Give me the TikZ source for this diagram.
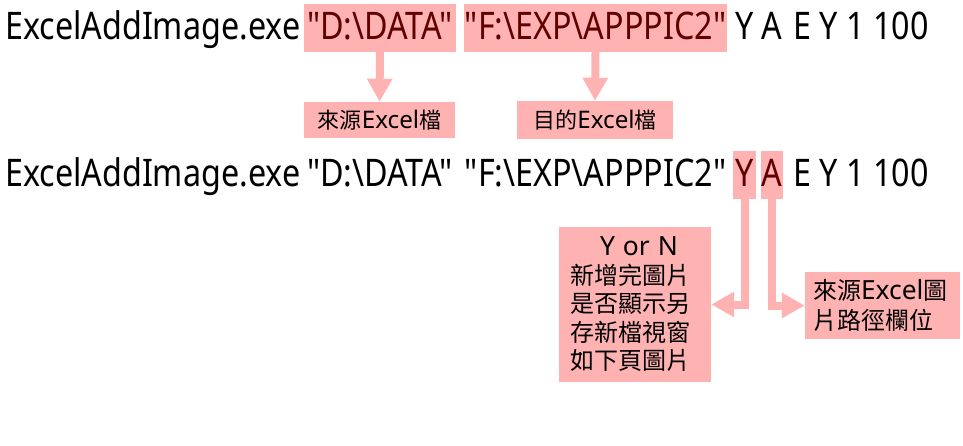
\documentclass[tikz,border=0pt]{standalone}
\usepackage{fontspec}
\setmainfont{Noto Sans}
\newfontfamily\cmdfont[FakeStretch=0.85]{Noto Sans}
\newfontfamily\cjkfont{Noto Sans CJK TC}
\newfontfamily\latinfont[Scale=1.1]{Noto Sans}
\usetikzlibrary{arrows.meta,positioning}

\definecolor{hlpink}{RGB}{255,178,178}
\definecolor{hlred}{RGB}{96,0,0}

\newcommand{\qq}[1]{\symbol{"22}#1\symbol{"22}}
\newcommand{\bs}{\symbol{"5C}}
\newcommand{\xl}{{\latinfont Excel}}

\tikzset{
	cmdpart/.style={inner sep=0pt, text height=27pt, text depth=3pt, minimum height=48pt, font=\cmdfont\fontsize{38}{40}\selectfont},
	hlpart/.style={cmdpart, fill=hlpink, text=hlred},
	notebox/.style={fill=hlpink, inner sep=0pt, font=\cjkfont\fontsize{24}{28.5}\selectfont},
	smallnote/.style={notebox, font=\cjkfont\fontsize{22}{26}\selectfont},
	blockarrow/.style={draw=hlpink, line width=8pt, line join=miter, -{Triangle[width=24pt,length=23pt]}},
}

\begin{document}
\begin{tikzpicture}[x=1pt, y=-1pt]
	\useasboundingbox (0,0) rectangle (963,446);

	\node[cmdpart, anchor=west] (exe1) at (5,28) {ExcelAddImage.exe};
	\node[hlpart, minimum width=152pt] (src1) at (380,28) {\qq{D:\bs DATA}};
	\node[hlpart, minimum width=263pt] (dst1) at (595.5,28) {\qq{F:\bs EXP\bs APPPIC2}};
	\node[cmdpart, minimum width=23pt] (y1) at (744.5,28) {Y};
	\node[cmdpart, minimum width=22pt] (a1) at (772,28) {A};
	\node[cmdpart, anchor=west] (rest1) at (793,28) {E Y 1 100};

	\node[smallnote, minimum width=151pt, minimum height=36pt] (srcnote) at (379.5,120) {來源\xl 檔};
	\node[smallnote, minimum width=156pt, minimum height=38pt] (dstnote) at (595,120) {目的\xl 檔};

	\node[cmdpart, anchor=west] (exe2) at (5,175) {ExcelAddImage.exe};
	\node[cmdpart, minimum width=152pt] (src2) at (380,175) {\qq{D:\bs DATA}};
	\node[cmdpart, minimum width=263pt] (dst2) at (595.5,175) {\qq{F:\bs EXP\bs APPPIC2}};
	\node[hlpart, minimum width=23pt] (y2) at (744.5,175) {Y};
	\node[hlpart, minimum width=22pt] (a2) at (772,175) {A};
	\node[cmdpart, anchor=west] (rest2) at (793,175) {E Y 1 100};

	\node[notebox, minimum width=152pt, minimum height=155pt, text width=130pt, align=left] (yornnote) at (635,304.5)
		{\hspace*{30pt}{\latinfont Y or N}\\新增完圖片\\是否顯示另\\存新檔視窗\\如下頁圖片};
	\node[notebox, minimum width=155pt, minimum height=67pt, text width=139pt, align=left, font=\cjkfont\fontsize{24}{30}\selectfont] (pathnote) at (882.5,305.5)
		{來源\xl 圖\\片路徑欄位};

	\draw[blockarrow] (src1.south) -- (srcnote.north);
	\draw[blockarrow] (dst1.south) -- (dstnote.north);
	\draw[blockarrow] (y2.south) |- (yornnote.east);
	\draw[blockarrow] (a2.south) |- (pathnote.west);
\end{tikzpicture}
\end{document}
